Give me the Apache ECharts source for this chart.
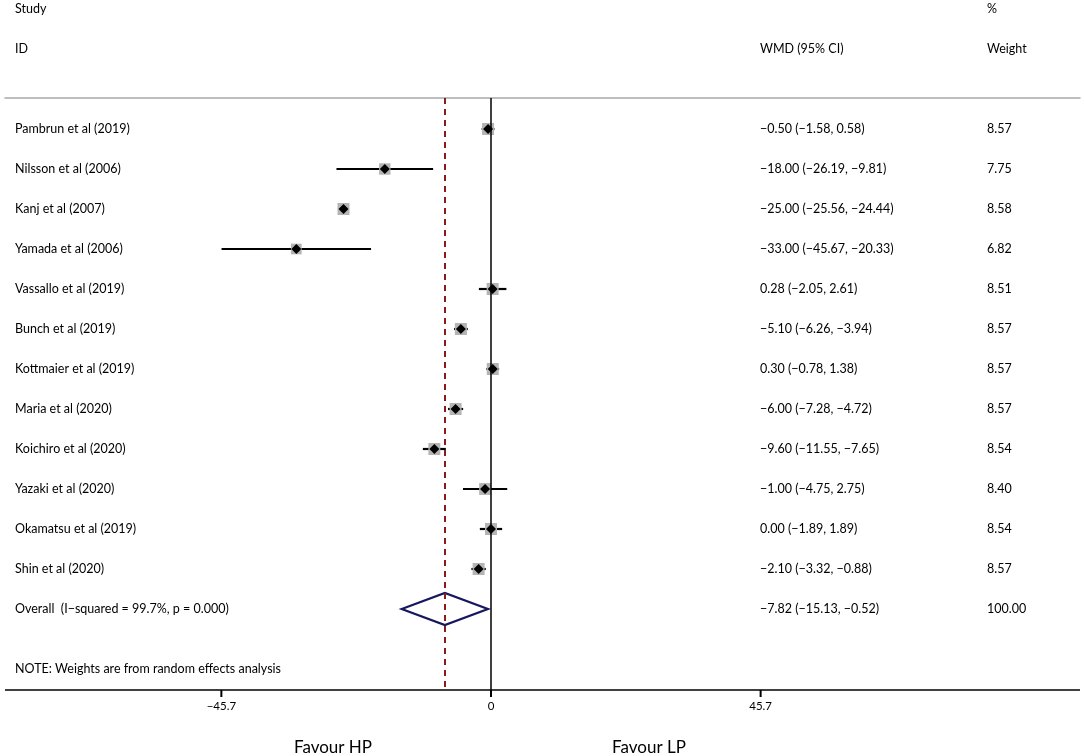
<!DOCTYPE html>
<html>
<head>
<meta charset="utf-8">
<script src="https://cdn.jsdelivr.net/npm/echarts@6/dist/echarts.min.js"></script>
<style>
  html, body { margin: 0; padding: 0; background: #fff; }
  #chart { width: 1084px; height: 756px; }
</style>
</head>
<body>
<div id="chart"></div>
<script>
// forest plot data
const studies = [
  'Pambrun et al (2019)', 'Nilsson et al (2006)', 'Kanj et al (2007)', 'Yamada et al (2006)',
  'Vassallo et al (2019)', 'Bunch et al (2019)', 'Kottmaier et al (2019)', 'Maria et al (2020)',
  'Koichiro et al (2020)', 'Yazaki et al (2020)', 'Okamatsu et al (2019)', 'Shin et al (2020)'
];
const wmd = [-0.50, -18.00, -25.00, -33.00, 0.28, -5.10, 0.30, -6.00, -9.60, -1.00, 0.00, -2.10];
const ciLow = [-1.58, -26.19, -25.56, -45.67, -2.05, -6.26, -0.78, -7.28, -11.55, -4.75, -1.89, -3.32];
const ciHigh = [0.58, -9.81, -24.44, -20.33, 2.61, -3.94, 1.38, -4.72, -7.65, 2.75, 1.89, -0.88];
const weights = [8.57, 7.75, 8.58, 6.82, 8.51, 8.57, 8.57, 8.57, 8.54, 8.40, 8.54, 8.57];
const overall = { label: 'Overall  (I\u2212squared = 99.7%, p = 0.000)', est: -7.82, lo: -15.13, hi: -0.52, weight: 100.00 };
const tickValues = [-45.7, 0, 45.7];
const noteText = 'NOTE: Weights are from random effects analysis';

const FONT = 'Lato, "Open Sans", sans-serif';
const COL_NAME = 15, COL_CI = 760, COL_W = 987;
const TOP_ROW = -0.775;   // header rule, in row units
const AXIS_ROW = 14.025;  // x axis line, in row units
const X_MIN = -82.37, X_MAX = 99.83;

const fmt = v => (v < 0 ? '\u2212' : '') + Math.abs(v).toFixed(2);
const ciText = (e, l, h) => fmt(e) + ' (' + fmt(l) + ', ' + fmt(h) + ')';

// rows: index, est, lo, hi, weight
const rows = studies.map((s, i) => [i, wmd[i], ciLow[i], ciHigh[i], weights[i]]);
const overallRow = studies.length;

const myChart = echarts.init(document.getElementById('chart'));

const txt = (x, y, text, size) => ({
  type: 'text', x: x, y: y,
  style: { text: text, fill: '#000', font: (size || 12.5) + 'px ' + FONT, textVerticalAlign: 'middle' }
});

myChart.setOption({
  animation: false,
  // grid reaches a little below the axis line so the ticks sit inside it
  grid: { left: 5, right: 4, top: 98, bottom: 58 },
  xAxis: [
    {
      type: 'value', min: X_MIN, max: X_MAX, position: 'bottom',
      axisLine: { show: false },
      axisTick: { show: false },
      axisLabel: {
        customValues: tickValues, margin: 2, color: '#000', fontSize: 11.5, fontFamily: FONT,
        formatter: v => (v < 0 ? '\u2212' + Math.abs(v) : String(v))
      },
      splitLine: { show: false }
    },
    {
      type: 'value', min: X_MIN, max: X_MAX, position: 'top',
      axisLine: { show: true, onZero: false, lineStyle: { color: '#a8a8a8', width: 1.5 } },
      axisTick: { show: false }, axisLabel: { show: false }, splitLine: { show: false }
    }
  ],
  yAxis: { type: 'value', inverse: true, min: TOP_ROW, max: 14.225, show: false },
  graphic: [
    txt(15, 9, 'Study'), txt(15, 49, 'ID'),
    txt(COL_CI, 49, 'WMD (95% CI)'), txt(COL_W, 9, '%'), txt(COL_W, 49, 'Weight'),
    { type: 'text', x: 333, y: 748, style: { text: 'Favour HP', fill: '#000', font: '17px ' + FONT, textAlign: 'center', textVerticalAlign: 'middle' } },
    { type: 'text', x: 649, y: 748, style: { text: 'Favour LP', fill: '#000', font: '17px ' + FONT, textAlign: 'center', textVerticalAlign: 'middle' } }
  ],
  series: [
    {
      // study estimates: CI line, weight box, point diamond
      type: 'custom',
      clip: false,
      data: rows,
      renderItem: (params, api) => {
        const y = api.coord([0, api.value(0)])[1];
        const lo = api.coord([api.value(2), 0])[0];
        const hi = api.coord([api.value(3), 0])[0];
        const x = api.coord([api.value(1), 0])[0];
        const box = 12 * Math.sqrt(api.value(4) / 8.58);
        const d = 5;
        return {
          type: 'group',
          children: [
            { type: 'line', shape: { x1: lo, y1: y, x2: hi, y2: y }, style: { stroke: '#000', lineWidth: 2.2 } },
            { type: 'rect', shape: { x: x - box / 2, y: y - box / 2, width: box, height: box }, style: { fill: '#b4b4b4' } },
            { type: 'polygon', shape: { points: [[x - d, y], [x, y - d], [x + d, y], [x, y + d]] }, style: { fill: '#000' } }
          ]
        };
      },
      markLine: {
        silent: true, symbol: 'none', label: { show: false },
        data: [
          [{ coord: [0, TOP_ROW], lineStyle: { color: '#000', width: 1.5, type: 'solid' } }, { coord: [0, AXIS_ROW] }],
          [{ coord: [overall.est, TOP_ROW], lineStyle: { color: '#8b1a1a', width: 2, type: [6, 5] } }, { coord: [overall.est, AXIS_ROW] }],
          [{ coord: [X_MIN, AXIS_ROW], lineStyle: { color: '#000', width: 1.5, type: 'solid' } }, { coord: [X_MAX, AXIS_ROW] }]
        ]
      }
    },
    {
      // pooled estimate diamond
      type: 'custom',
      clip: false,
      data: [[overallRow, overall.est, overall.lo, overall.hi]],
      renderItem: (params, api) => {
        const y = api.coord([0, api.value(0)])[1];
        const lo = api.coord([api.value(2), 0])[0];
        const hi = api.coord([api.value(3), 0])[0];
        const x = api.coord([api.value(1), 0])[0];
        return {
          type: 'polygon',
          shape: { points: [[lo, y], [x, y - 16], [hi, y], [x, y + 16]] },
          style: { fill: 'none', stroke: '#17175e', lineWidth: 2.2 }
        };
      }
    },
    {
      // axis ticks below the labelled values
      type: 'custom',
      silent: true,
      z: 10,
      data: tickValues.map(v => [v, AXIS_ROW]),
      renderItem: (params, api) => {
        const p = api.coord([api.value(0), api.value(1)]);
        return {
          type: 'rect',
          shape: { x: p[0] - 1, y: p[1], width: 2, height: 7 },
          style: { fill: '#000' }
        };
      }
    },
    {
      // text columns
      type: 'custom',
      clip: false,
      silent: true,
      data: rows.map(r => [r[0]]).concat([[overallRow], [overallRow + 1.5]]),
      renderItem: (params, api) => {
        const i = params.dataIndex;
        const y = api.coord([0, api.value(0)])[1];
        let name, ci = '', w = '';
        if (i < studies.length) {
          name = studies[i];
          ci = ciText(wmd[i], ciLow[i], ciHigh[i]);
          w = weights[i].toFixed(2);
        } else if (i === studies.length) {
          name = overall.label;
          ci = ciText(overall.est, overall.lo, overall.hi);
          w = overall.weight.toFixed(2);
        } else {
          name = noteText;
        }
        const font = '12.5px ' + FONT;
        return {
          type: 'group',
          children: [
            { type: 'text', x: COL_NAME, y: y, style: { text: name, fill: '#000', font: font, textVerticalAlign: 'middle' } },
            { type: 'text', x: COL_CI, y: y, style: { text: ci, fill: '#000', font: font, textVerticalAlign: 'middle' } },
            { type: 'text', x: COL_W, y: y, style: { text: w, fill: '#000', font: font, textVerticalAlign: 'middle' } }
          ]
        };
      }
    }
  ]
});
</script>
</body>
</html>
